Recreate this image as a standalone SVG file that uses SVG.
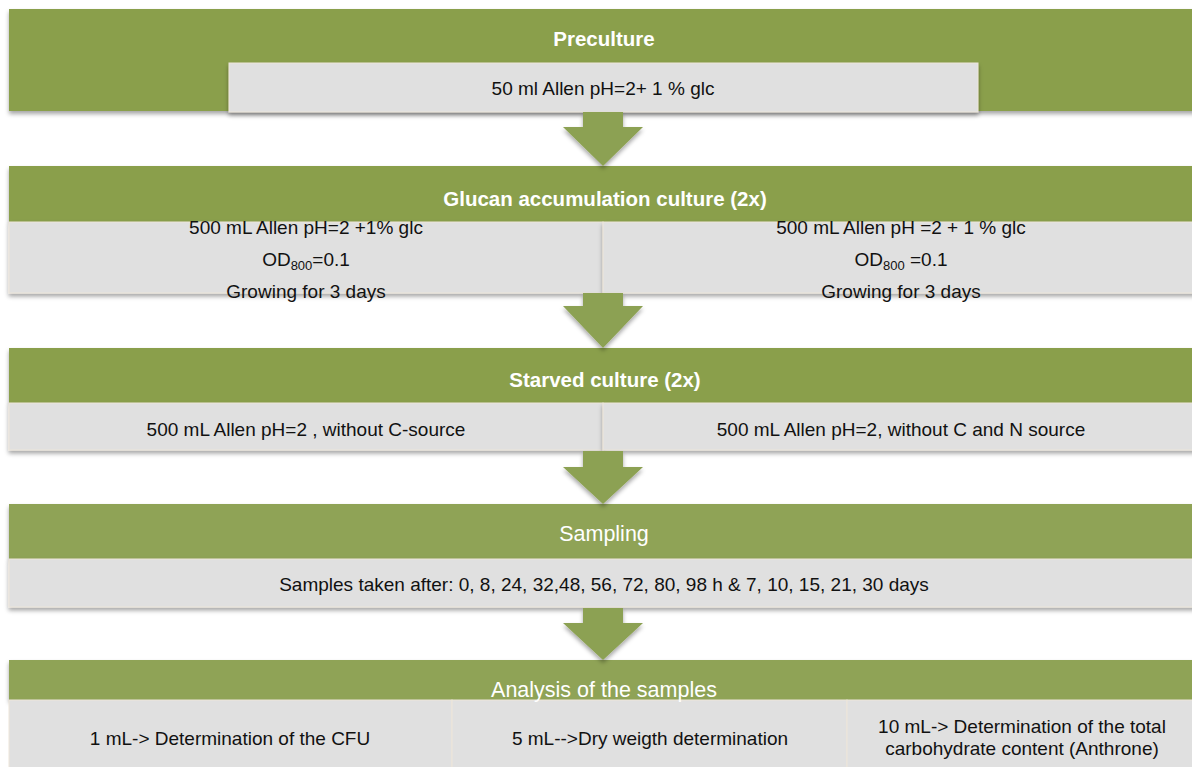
<svg xmlns="http://www.w3.org/2000/svg" width="1192" height="767" viewBox="0 0 1192 767">
<defs>
<filter id="sh" x="-5%" y="-20%" width="110%" height="150%">
<feDropShadow dx="0" dy="3" stdDeviation="2" flood-color="#000" flood-opacity="0.35"/>
</filter>
<style>
.g{fill:#8A9F4C}
.g2{fill:#8FA357}
.c{fill:#E0E0E0;stroke:#EDE6DA;stroke-width:1}
.a{fill:#8CA152}
.h{font-family:"Liberation Sans",Arial,sans-serif;font-size:20.5px;font-weight:bold;fill:#fff;text-anchor:middle}
.h2{font-family:"Liberation Sans",Arial,sans-serif;font-size:21.5px;fill:#fff;text-anchor:middle}
.t{font-family:"Liberation Sans",Arial,sans-serif;font-size:19px;fill:#111;text-anchor:middle}
.s{font-size:13px}
</style>
</defs>
<g id="preculture">
<rect class="g" x="9" y="9" width="1192" height="102" filter="url(#sh)"/>
<rect class="c" x="229" y="63" width="749" height="49" filter="url(#sh)"/>
<text class="h" x="604" y="46">Preculture</text>
<text class="t" x="603" y="95">50 ml Allen pH=2+ 1 % glc</text>
</g>
<g id="glucan">
<rect class="g" x="9" y="166" width="1192" height="56" filter="url(#sh)"/>
<rect class="c" x="9" y="222" width="594" height="71" filter="url(#sh)"/>
<rect class="c" x="603" y="222" width="598" height="71" filter="url(#sh)"/>
<text class="h" x="605" y="206">Glucan accumulation culture (2x)</text>
<text class="t" x="306" y="234">500 mL Allen pH=2 +1% glc</text>
<text class="t" x="306" y="266">OD<tspan class="s" dy="4">800</tspan><tspan dy="-4">=0.1</tspan></text>
<text class="t" x="306" y="298">Growing for 3 days</text>
<text class="t" x="901" y="234">500 mL Allen pH =2 + 1 % glc</text>
<text class="t" x="901" y="266">OD<tspan class="s" dy="4">800</tspan><tspan dy="-4"> =0.1</tspan></text>
<text class="t" x="901" y="298">Growing for 3 days</text>
</g>
<g id="starved">
<rect class="g" x="9" y="348" width="1192" height="55" filter="url(#sh)"/>
<rect class="c" x="9" y="403" width="594" height="47" filter="url(#sh)"/>
<rect class="c" x="603" y="403" width="598" height="47" filter="url(#sh)"/>
<text class="h" x="605" y="387">Starved culture (2x)</text>
<text class="t" x="306" y="436">500 mL Allen pH=2 , without C-source</text>
<text class="t" x="901" y="436">500 mL Allen pH=2, without C and N source</text>
</g>
<g id="sampling">
<rect class="g2" x="9" y="504" width="1192" height="55" filter="url(#sh)"/>
<rect class="c" x="9" y="559" width="1192" height="48" filter="url(#sh)"/>
<text class="h2" x="604" y="541">Sampling</text>
<text class="t" x="604" y="591">Samples taken after: 0, 8, 24, 32,48, 56, 72, 80, 98 h &amp; 7, 10, 15, 21, 30 days</text>
</g>
<g id="analysis">
<rect class="g2" x="9" y="660" width="1192" height="40" filter="url(#sh)"/>
<rect class="c" x="9" y="700" width="443" height="72"/>
<rect class="c" x="452" y="700" width="395" height="72"/>
<rect class="c" x="847" y="700" width="354" height="72"/>
<text class="h2" x="604" y="697">Analysis of the samples</text>
<text class="t" x="230" y="745">1 mL-&gt; Determination of the CFU</text>
<text class="t" x="650" y="745">5 mL--&gt;Dry weigth determination</text>
<text class="t" x="1022" y="733">10 mL-&gt; Determination of the total</text>
<text class="t" x="1022" y="755">carbohydrate content (Anthrone)</text>
</g>
<g id="connectors">
<polygon class="a" filter="url(#sh)" points="583,112 623,112 623,127 643,127 603,166 563,127 583,127"/>
<polygon class="a" filter="url(#sh)" points="583,293 623,293 623,306 643,306 603,348 563,306 583,306"/>
<polygon class="a" filter="url(#sh)" points="583,451 623,451 623,467 643,467 603,504 563,467 583,467"/>
<polygon class="a" filter="url(#sh)" points="583,608 623,608 623,623 643,623 603,660 563,623 583,623"/>
</g>
</svg>
